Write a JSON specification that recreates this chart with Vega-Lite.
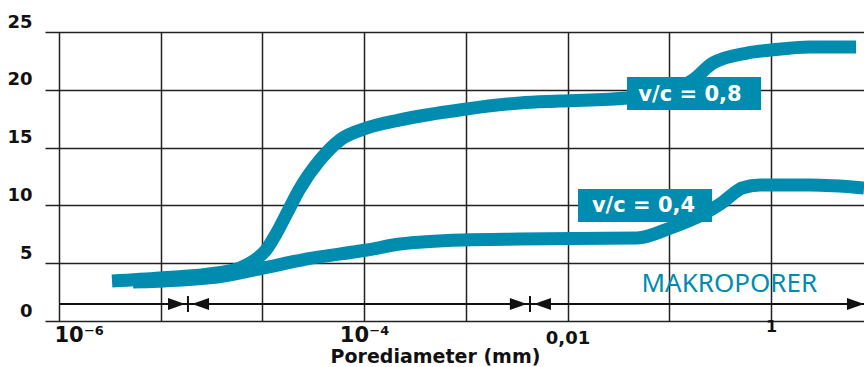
{
  "$schema": "https://vega.github.io/schema/vega-lite/v6.json",
  "width": 819,
  "height": 289,
  "autosize": "none",
  "padding": {"left": 45, "top": 32, "right": 0, "bottom": 46},
  "background": "white",
  "config": {"view": {"stroke": null}},
  "datasets": {
    "curves": [
      {"serie": "v/c = 0,8", "d": 0.521, "p": 3.46},
      {"serie": "v/c = 0,8", "d": 0.993, "p": 3.72},
      {"serie": "v/c = 0,8", "d": 1.554, "p": 4.15},
      {"serie": "v/c = 0,8", "d": 1.780, "p": 4.58},
      {"serie": "v/c = 0,8", "d": 1.927, "p": 5.28},
      {"serie": "v/c = 0,8", "d": 2.035, "p": 6.14},
      {"serie": "v/c = 0,8", "d": 2.134, "p": 7.53},
      {"serie": "v/c = 0,8", "d": 2.242, "p": 9.34},
      {"serie": "v/c = 0,8", "d": 2.360, "p": 11.33},
      {"serie": "v/c = 0,8", "d": 2.566, "p": 13.93},
      {"serie": "v/c = 0,8", "d": 2.763, "p": 15.66},
      {"serie": "v/c = 0,8", "d": 3.029, "p": 16.70},
      {"serie": "v/c = 0,8", "d": 3.353, "p": 17.40},
      {"serie": "v/c = 0,8", "d": 3.972, "p": 18.30},
      {"serie": "v/c = 0,8", "d": 4.533, "p": 18.86},
      {"serie": "v/c = 0,8", "d": 4.926, "p": 19.03},
      {"serie": "v/c = 0,8", "d": 5.585, "p": 19.29},
      {"serie": "v/c = 0,8", "d": 5.910, "p": 19.64},
      {"serie": "v/c = 0,8", "d": 6.234, "p": 20.85},
      {"serie": "v/c = 0,8", "d": 6.431, "p": 22.32},
      {"serie": "v/c = 0,8", "d": 6.765, "p": 23.18},
      {"serie": "v/c = 0,8", "d": 7.001, "p": 23.44},
      {"serie": "v/c = 0,8", "d": 7.385, "p": 23.70},
      {"serie": "v/c = 0,8", "d": 7.837, "p": 23.70},
      {"serie": "v/c = 0,4", "d": 0.728, "p": 3.37},
      {"serie": "v/c = 0,4", "d": 1.554, "p": 3.81},
      {"serie": "v/c = 0,4", "d": 2.006, "p": 4.58},
      {"serie": "v/c = 0,4", "d": 2.429, "p": 5.36},
      {"serie": "v/c = 0,4", "d": 3.029, "p": 6.14},
      {"serie": "v/c = 0,4", "d": 3.353, "p": 6.66},
      {"serie": "v/c = 0,4", "d": 3.972, "p": 7.01},
      {"serie": "v/c = 0,4", "d": 4.533, "p": 7.09},
      {"serie": "v/c = 0,4", "d": 5.683, "p": 7.18},
      {"serie": "v/c = 0,4", "d": 6.008, "p": 8.04},
      {"serie": "v/c = 0,4", "d": 6.372, "p": 9.43},
      {"serie": "v/c = 0,4", "d": 6.529, "p": 10.29},
      {"serie": "v/c = 0,4", "d": 6.627, "p": 10.99},
      {"serie": "v/c = 0,4", "d": 6.716, "p": 11.51},
      {"serie": "v/c = 0,4", "d": 6.893, "p": 11.76},
      {"serie": "v/c = 0,4", "d": 7.385, "p": 11.76},
      {"serie": "v/c = 0,4", "d": 7.915, "p": 11.51}
    ],
    "boxes": [
      {"label": "v/c = 0,8", "tx": 6.204, "ty": 19.03, "x1": 5.585, "x2": 6.903, "y1": 18.25, "y2": 21.11},
      {"label": "v/c = 0,4", "tx": 5.747, "ty": 9.46, "x1": 5.103, "x2": 6.421, "y1": 8.56, "y2": 11.42}
    ],
    "ranges": [
      {"from": 0, "to": 7.915}
    ],
    "bounds": [
      {"d": 1.268},
      {"d": 4.631}
    ],
    "heads": [
      {"d": 1.239, "dir": "right"},
      {"d": 1.308, "dir": "left"},
      {"d": 4.600, "dir": "right"},
      {"d": 4.670, "dir": "left"},
      {"d": 7.915, "dir": "right"}
    ],
    "zones": [
      {"label": "MAKROPORER", "d": 6.59, "p": 2.51}
    ]
  },
  "layer": [
    {
      "data": {"name": "curves"},
      "mark": {"type": "line", "strokeWidth": 13, "interpolate": "monotone", "strokeCap": "butt", "color": "#008caf"},
      "encoding": {
        "x": {
          "field": "d", "type": "quantitative",
          "scale": {"domain": [-0.1377, 7.915], "nice": false, "zero": false},
          "axis": {
            "values": [0, 1, 2, 3, 4, 5, 6, 7],
            "grid": true, "gridColor": "#222", "gridWidth": 1.5,
            "domain": false, "ticks": false,
            "labelExpr": "datum.value == 0 ? '10⁻⁶' : datum.value == 3 ? '10⁻⁴' : datum.value == 5 ? '0,01' : datum.value == 7 ? '1' : ''",
            "labelFont": "DejaVu Sans", "labelFontWeight": "bold", "labelColor": "#111",
            "labelFontSize": {"condition": [{"test": "datum.value == 5", "value": 18}, {"test": "datum.value == 7", "value": 16}], "value": 21},
            "labelPadding": {"condition": [{"test": "datum.value == 5", "value": 8}, {"test": "datum.value == 7", "value": -3}], "value": 3},
            "labelAlign": {"condition": {"test": "datum.value == 0", "value": "left"}, "value": "center"},
            "labelOffset": {"condition": {"test": "datum.value == 0", "value": -5}, "value": 0},
            "labelBaseline": "top",
            "labelOverlap": false, "labelFlush": false,
            "title": "Porediameter (mm)",
            "titleFont": "DejaVu Sans", "titleFontSize": 19, "titleFontWeight": "bold", "titleColor": "#111",
            "titleX": 390, "titleY": 41, "titleAlign": "center", "titleBaseline": "alphabetic"
          }
        },
        "y": {
          "field": "p", "type": "quantitative",
          "scale": {"domain": [0, 25], "nice": false},
          "axis": {
            "values": [0, 5, 10, 15, 20, 25],
            "grid": true, "gridColor": "#222", "gridWidth": 1.5,
            "domain": false, "ticks": false,
            "labelFont": "DejaVu Sans", "labelFontWeight": "bold", "labelFontSize": 18, "labelColor": "#111",
            "labelPadding": 13, "labelAlign": "right", "labelBaseline": "middle", "labelOffset": -10,
            "title": null
          }
        },
        "detail": {"field": "serie", "type": "nominal"}
      }
    },
    {
      "data": {"name": "boxes"},
      "mark": {"type": "rect", "color": "#008caf"},
      "encoding": {
        "x": {"field": "x1", "type": "quantitative"},
        "x2": {"field": "x2"},
        "y": {"field": "y1", "type": "quantitative"},
        "y2": {"field": "y2"}
      }
    },
    {
      "data": {"name": "boxes"},
      "mark": {"type": "text", "font": "DejaVu Sans", "fontWeight": "bold", "fontSize": 21, "color": "white", "align": "center", "baseline": "alphabetic"},
      "encoding": {
        "x": {"field": "tx", "type": "quantitative"},
        "y": {"field": "ty", "type": "quantitative"},
        "text": {"field": "label"}
      }
    },
    {
      "data": {"name": "ranges"},
      "mark": {"type": "rule", "color": "#111", "strokeWidth": 2},
      "encoding": {
        "x": {"field": "from", "type": "quantitative"},
        "x2": {"field": "to"},
        "y": {"datum": 1.47}
      }
    },
    {
      "data": {"name": "bounds"},
      "mark": {"type": "rule", "color": "#111", "strokeWidth": 2},
      "encoding": {
        "x": {"field": "d", "type": "quantitative"},
        "y": {"datum": 0.78},
        "y2": {"datum": 2.16}
      }
    },
    {
      "data": {"name": "heads"},
      "mark": {"type": "point", "filled": true, "color": "#111", "opacity": 1, "size": 289, "strokeWidth": 0},
      "encoding": {
        "x": {"field": "d", "type": "quantitative"},
        "y": {"datum": 1.47},
        "shape": {
          "field": "dir", "type": "nominal",
          "scale": {"domain": ["right", "left"], "range": ["M0,0L-2,-0.7L-2,0.7Z", "M0,0L2,-0.7L2,0.7Z"]},
          "legend": null
        }
      }
    },
    {
      "data": {"name": "zones"},
      "mark": {"type": "text", "font": "Noto Sans", "fontSize": 26, "color": "#008caf", "align": "center", "baseline": "alphabetic"},
      "encoding": {
        "x": {"field": "d", "type": "quantitative"},
        "y": {"field": "p", "type": "quantitative"},
        "text": {"field": "label"}
      }
    }
  ]
}
